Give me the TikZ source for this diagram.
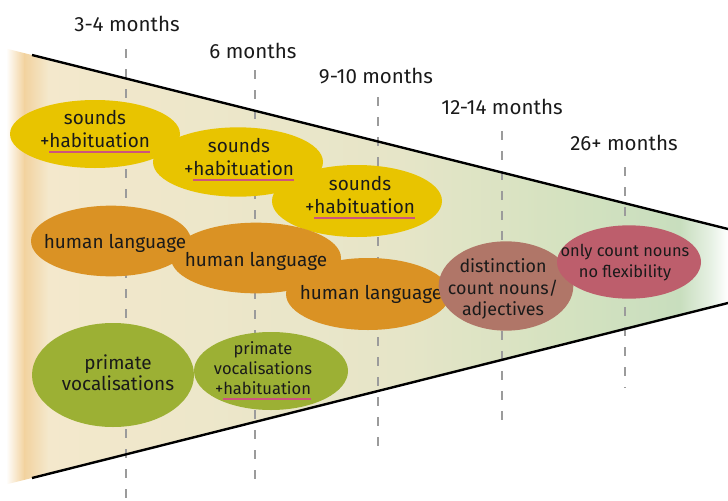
\documentclass[tikz,border=0pt]{standalone}
\usepackage{fontspec}
\setmainfont{Fira Sans}
\usetikzlibrary{shapes.geometric}

\definecolor{txtcol}{RGB}{26,26,26}
\definecolor{ylw}{RGB}{232,196,0}
\definecolor{org}{RGB}{218,146,36}
\definecolor{grn}{RGB}{156,176,52}
\definecolor{brn}{RGB}{176,118,104}
\definecolor{pnk}{RGB}{189,94,108}
\definecolor{ulcol}{RGB}{205,85,125}
\definecolor{dashgray}{RGB}{155,155,155}
\definecolor{bgA}{RGB}{255,255,255}
\definecolor{bgB}{RGB}{242,210,158}
\definecolor{bgC}{RGB}{244,232,204}
\definecolor{bgD}{RGB}{238,231,202}
\definecolor{bgE}{RGB}{230,229,200}
\definecolor{bgF}{RGB}{213,226,192}
\definecolor{bgG}{RGB}{200,222,190}
\definecolor{bgH}{RGB}{232,242,230}

% "+habituation" with a coloured underline under the word
\newlength\hablen
\newcommand\habul{\settowidth{\hablen}{habituation}+\rlap{\smash{\textcolor{ulcol}{\rule[-4.5pt]{\hablen}{1.6pt}}}}habituation}

\tikzset{
  blob/.style={ellipse, inner sep=0pt, draw=none},
  blobtext/.style={align=center, inner sep=0pt, text=txtcol, font=\fontsize{14.2}{17.2}\selectfont},
  smalltext/.style={blobtext, font=\fontsize{12.4}{15.4}\selectfont},
  monthlabel/.style={inner sep=0pt, text=txtcol, font=\fontsize{15.4}{18}\selectfont},
  timeline/.style={draw=dashgray, line width=2pt, dash pattern=on 6.5pt off 8.5pt},
  funnel/.style={draw=black, line width=1.8pt},
}

\begin{document}
\begin{tikzpicture}[x=0.75pt, y=-0.75pt]
\useasboundingbox (0,0) rectangle (728,500);

% shaded body of the funnel
\begin{scope}
  \clip (0,47) -- (728,229) -- (728,303) -- (0,486) -- cycle;
  \shade[left color=bgA, right color=bgA] (0,40) rectangle (6.5,500);
  \shade[left color=bgA, right color=bgB] (6,40) rectangle (24.5,500);
  \shade[left color=bgB, right color=bgC] (24,40) rectangle (48.5,500);
  \shade[left color=bgC, right color=bgD] (48,40) rectangle (170.5,500);
  \shade[left color=bgD, right color=bgE] (170,40) rectangle (400.5,500);
  \shade[left color=bgE, right color=bgF] (400,40) rectangle (560.5,500);
  \shade[left color=bgF, right color=bgG] (560,40) rectangle (680.5,500);
  \shade[left color=bgG, right color=bgH] (680,40) rectangle (712.5,500);
  \shade[left color=bgH, right color=bgA] (712,40) rectangle (728,500);
\end{scope}

% month labels and their time lines
\node[monthlabel] (m1) at (127,24) {3-4 months};
\node[monthlabel] (m2) at (253,51) {6 months};
\node[monthlabel] (m3) at (376,76) {9-10 months};
\node[monthlabel] (m4) at (502,107) {12-14 months};
\node[monthlabel] (m5) at (624,143) {26+ months};

\coordinate (t1) at (126,49);  \coordinate (b1) at (126,500);
\coordinate (t2) at (255,70);  \coordinate (b2) at (255,483);
\coordinate (t3) at (378,97);  \coordinate (b3) at (378,453);
\coordinate (t4) at (502,131); \coordinate (b4) at (502,423);
\coordinate (t5) at (625,167); \coordinate (b5) at (625,388);
\draw[timeline] (t1) -- (b1);
\draw[timeline] (t2) -- (b2);
\draw[timeline] (t3) -- (b3);
\draw[timeline] (t4) -- (b4);
\draw[timeline] (t5) -- (b5);

% funnel edges
\coordinate (ftl) at (32,55);  \coordinate (ftr) at (728,229);
\coordinate (fbl) at (32,478); \coordinate (fbr) at (728,303);
\draw[funnel] (ftl) -- (ftr);
\draw[funnel] (fbl) -- (fbr);

% sounds
\node[blob, fill=ylw, minimum width=127.5pt, minimum height=51pt] (s1) at (95,134) {};
\node[blob, fill=ylw, minimum width=127.5pt, minimum height=52pt] (s2) at (238,162) {};
\node[blob, fill=ylw, minimum width=127.5pt, minimum height=54pt] (s3) at (357,201) {};
\node[blobtext] (s1t) at (95,129) {sounds\\\habul};
\node[blobtext] (s2t) at (239,157) {sounds\\\habul};
\node[blobtext] (s3t) at (360,195) {sounds\\\habul};

% human language
\node[blob, fill=org, minimum width=120pt, minimum height=53pt] (h1) at (111,241) {};
\node[blob, fill=org, minimum width=127.5pt, minimum height=53pt] (h2) at (256,258) {};
\node[blob, fill=org, minimum width=123pt, minimum height=54pt] (h3) at (368,294) {};
\node[blobtext] (h1t) at (115,243) {human language};
\node[blobtext] (h2t) at (256,261) {human language};
\node[blobtext] (h3t) at (371,294) {human language};

% later stages
\node[blob, fill=brn, minimum width=101pt, minimum height=67pt] (d1) at (506,286) {};
\node[blobtext, font=\fontsize{13.4}{16}\selectfont] (d1t) at (503,289) {distinction\\count nouns/\\adjectives};
\node[blob, fill=pnk, minimum width=108pt, minimum height=55pt] (c1) at (629,262) {};
\node[smalltext, font=\fontsize{12.3}{15.8}\selectfont] (c1t) at (625,263) {only count nouns\\no flexibility};

% primate vocalisations
\node[blob, fill=grn, minimum width=121.5pt, minimum height=78pt] (p1) at (113,375) {};
\node[blob, fill=grn, minimum width=115.5pt, minimum height=58.5pt] (p2) at (271,371) {};
\node[blobtext, font=\fontsize{14.2}{15.8}\selectfont] (p1t) at (118,373) {primate\\vocalisations};
\node[smalltext, font=\fontsize{12.4}{15}\selectfont] (p2t) at (263,368) {primate\\vocalisations\\\habul};

\end{tikzpicture}
\end{document}
